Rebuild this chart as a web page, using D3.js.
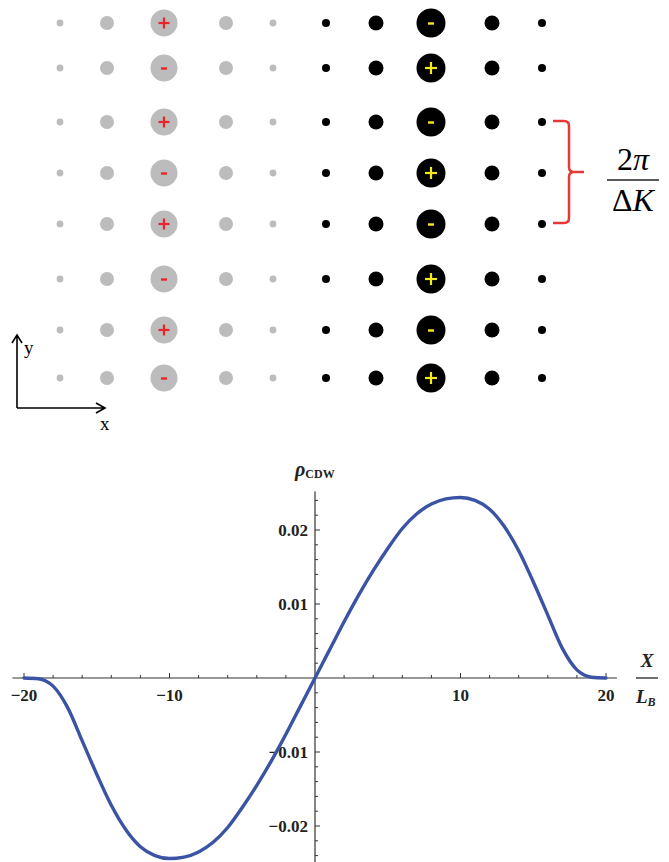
<!DOCTYPE html>
<html>
<head>
<meta charset="utf-8">
<script src="https://cdn.jsdelivr.net/npm/d3@7"></script>
<style>
  html, body { margin: 0; padding: 0; background: #fff; }
  svg { display: block; }
</style>
</head>
<body>
<svg id="fig" width="669" height="862"></svg>
<script>
// ---- lattice panel data ----
const rowSigns = ["+", "-", "+", "-", "+", "-", "+", "-"];   // sign on the grey centre site
const rowY = [23, 68, 122, 173, 224, 279, 330, 378];
const siteCols = [0, 1, 2, 3, 4];
const greyColX = [60, 107, 164, 226, 273];
const blackColX = [326, 376, 431, 492, 542];
const greyRadius = [3.4, 7, 13.5, 7, 3.4];
const blackRadius = [4, 7.5, 14.5, 7.5, 4];

// ---- charge density profile ----
const xPos = [-20, -19, -18.5, -18, -17, -16, -15, -14, -13, -12, -11, -10, -9, -8, -7, -6, -5, -4, -3, -2, -1,
              0, 1, 2, 3, 4, 5, 6, 7, 8, 9, 10, 11, 12, 13, 14, 15, 16, 17, 18, 18.5, 19, 20];
const rhoCDW = [0, -0.0001, -0.0004, -0.0011, -0.0040, -0.0085, -0.0130, -0.0172, -0.0205, -0.0228, -0.0240, -0.0244,
                -0.0242, -0.0235, -0.0222, -0.0202, -0.0175, -0.0145, -0.0112, -0.0076, -0.0038,
                0, 0.0038, 0.0076, 0.0112, 0.0145, 0.0175, 0.0202, 0.0222, 0.0235, 0.0242, 0.0244,
                0.0240, 0.0228, 0.0205, 0.0172, 0.0130, 0.0085, 0.0040, 0.0011, 0.0004, 0.0001, 0];
const xTickLabels = [-20, -10, 10, 20];
const yTickLabels = [0.02, 0.01, -0.01, -0.02];

const svg = d3.select("#fig");
const serif = "'Liberation Serif', 'DejaVu Serif', serif";

// ================= lattice sketch =================
const lat = svg.append("g");
const greyX = d3.scaleOrdinal().domain(siteCols).range(greyColX);
const blackX = d3.scaleOrdinal().domain(siteCols).range(blackColX);
const flip = s => (s === "+" ? "-" : "+");

rowSigns.forEach((sign, r) => {
  const y = rowY[r];
  siteCols.forEach(c => {
    lat.append("circle").attr("cx", greyX(c)).attr("cy", y).attr("r", greyRadius[c]).attr("fill", "#bcbcbc");
    lat.append("circle").attr("cx", blackX(c)).attr("cy", y).attr("r", blackRadius[c]).attr("fill", "#000");
  });
  drawSign(lat, greyX(2), y, sign, "#e8262a", 5.5);
  drawSign(lat, blackX(2), y, flip(sign), "#f4ea1c", 6);
});

function drawSign(g, cx, cy, s, col, h) {
  if (s === "+") {
    g.append("line").attr("x1", cx - h).attr("x2", cx + h).attr("y1", cy).attr("y2", cy)
      .attr("stroke", col).attr("stroke-width", 2.2);
    g.append("line").attr("x1", cx).attr("x2", cx).attr("y1", cy - h).attr("y2", cy + h)
      .attr("stroke", col).attr("stroke-width", 2.2);
  } else {
    g.append("line").attr("x1", cx - 3).attr("x2", cx + 3).attr("y1", cy + 0.5).attr("y2", cy + 0.5)
      .attr("stroke", col).attr("stroke-width", 2.4);
  }
}

// bracket spanning two lattice periods
const bTop = rowY[2] - 1, bBot = rowY[4] - 1, bMid = (bTop + bBot) / 2;
const bx0 = 553, bx1 = 569, bx2 = 584, rr = 5;
lat.append("path")
  .attr("d", `M${bx0},${bTop} H${bx1 - rr} Q${bx1},${bTop} ${bx1},${bTop + rr} V${bMid - rr} Q${bx1},${bMid} ${bx1 + rr},${bMid} H${bx2}
              M${bx1 + rr},${bMid} Q${bx1},${bMid} ${bx1},${bMid + rr} V${bBot - rr} Q${bx1},${bBot} ${bx1 - rr},${bBot} H${bx0}`)
  .attr("fill", "none").attr("stroke", "#e53935").attr("stroke-width", 2.5);

const frac = lat.append("g").attr("font-family", serif).attr("font-size", 32).attr("text-anchor", "middle");
const t1 = frac.append("text").attr("x", 633).attr("y", 170);
t1.append("tspan").text("2");
t1.append("tspan").attr("font-style", "italic").text("π");
frac.append("line").attr("x1", 607).attr("x2", 659).attr("y1", 180).attr("y2", 180)
  .attr("stroke", "#222").attr("stroke-width", 1.5);
const t2 = frac.append("text").attr("x", 633).attr("y", 211);
t2.append("tspan").text("Δ");
t2.append("tspan").attr("font-style", "italic").text("K");

// coordinate axes glyph
const ax = lat.append("g").attr("stroke", "#000").attr("stroke-width", 1.6).attr("fill", "none");
ax.append("path").attr("d", "M17,408 V336 M12,343 L17,335 L22,343");
ax.append("path").attr("d", "M17,408 H104 M96,403 L105,408 L96,413");
lat.append("text").attr("x", 24).attr("y", 354).attr("font-family", serif).attr("font-size", 19).text("y");
lat.append("text").attr("x", 100).attr("y", 430).attr("font-family", serif).attr("font-size", 19).text("x");

// ================= density plot =================
const x = d3.scaleLinear().domain([-20, 20]).range([24, 606]);
const y = d3.scaleLinear().domain([0, 0.02]).range([678, 530]);
const plot = svg.append("g");
const axisCol = "#333";

// axes lines
plot.append("line").attr("x1", x(-20.8)).attr("x2", x(20.75)).attr("y1", y(0)).attr("y2", y(0))
  .attr("stroke", axisCol).attr("stroke-width", 1.2);
plot.append("line").attr("x1", x(0)).attr("x2", x(0)).attr("y1", y(0.0252)).attr("y2", 862)
  .attr("stroke", axisCol).attr("stroke-width", 1.2);

// x ticks (point upward)
d3.range(-20, 21, 2).filter(v => v !== 0).forEach(v => {
  const major = v % 10 === 0;
  plot.append("line").attr("x1", x(v)).attr("x2", x(v)).attr("y1", y(0)).attr("y2", y(0) - (major ? 5 : 3))
    .attr("stroke", axisCol).attr("stroke-width", 1);
});
// y ticks (point right)
d3.range(-12, 13).filter(k => k !== 0).forEach(k => {
  const v = k * 0.002;
  const major = k % 5 === 0;
  plot.append("line").attr("x1", x(0)).attr("x2", x(0) + (major ? 5 : 3)).attr("y1", y(v)).attr("y2", y(v))
    .attr("stroke", axisCol).attr("stroke-width", 1);
});

const lbl = plot.append("g").attr("font-family", serif).attr("font-weight", "bold").attr("font-size", 17).attr("fill", "#222");
xTickLabels.forEach(v => {
  lbl.append("text").attr("x", x(v)).attr("y", y(0) + 23).attr("text-anchor", "middle")
    .text(v < 0 ? "\u2212" + Math.abs(v) : String(v));
});
yTickLabels.forEach(v => {
  lbl.append("text").attr("x", x(0) - 7).attr("y", y(v) + 6).attr("text-anchor", "end")
    .text(v < 0 ? "\u2212" + d3.format(".2f")(Math.abs(v)) : d3.format(".2f")(v));
});

// axis titles
const yt = plot.append("text").attr("x", 295).attr("y", 476).attr("font-family", serif).attr("font-weight", "bold").attr("fill", "#222");
yt.append("tspan").attr("font-style", "italic").attr("font-size", 20).text("ρ");
yt.append("tspan").attr("font-size", 12).attr("dy", 2).text("CDW");

const xt = plot.append("g").attr("font-family", serif).attr("font-weight", "bold").attr("font-style", "italic").attr("fill", "#222");
xt.append("text").attr("x", 647).attr("y", 667).attr("text-anchor", "middle").attr("font-size", 19).text("X");
xt.append("line").attr("x1", 636).attr("x2", 658).attr("y1", 678).attr("y2", 678).attr("stroke", "#222").attr("stroke-width", 1.3);
const lb = xt.append("text").attr("x", 636).attr("y", 703).attr("font-size", 19);
lb.append("tspan").text("L");
lb.append("tspan").attr("font-size", 12).attr("dy", 3).text("B");

// profile curve
const pts = xPos.map((v, i) => [v, rhoCDW[i]]);
plot.append("path")
  .datum(pts)
  .attr("fill", "none")
  .attr("stroke", "#3a53a4")
  .attr("stroke-width", 3.4)
  .attr("stroke-linecap", "round")
  .attr("d", d3.line().x(d => x(d[0])).y(d => y(d[1])).curve(d3.curveMonotoneX));
</script>
</body>
</html>
